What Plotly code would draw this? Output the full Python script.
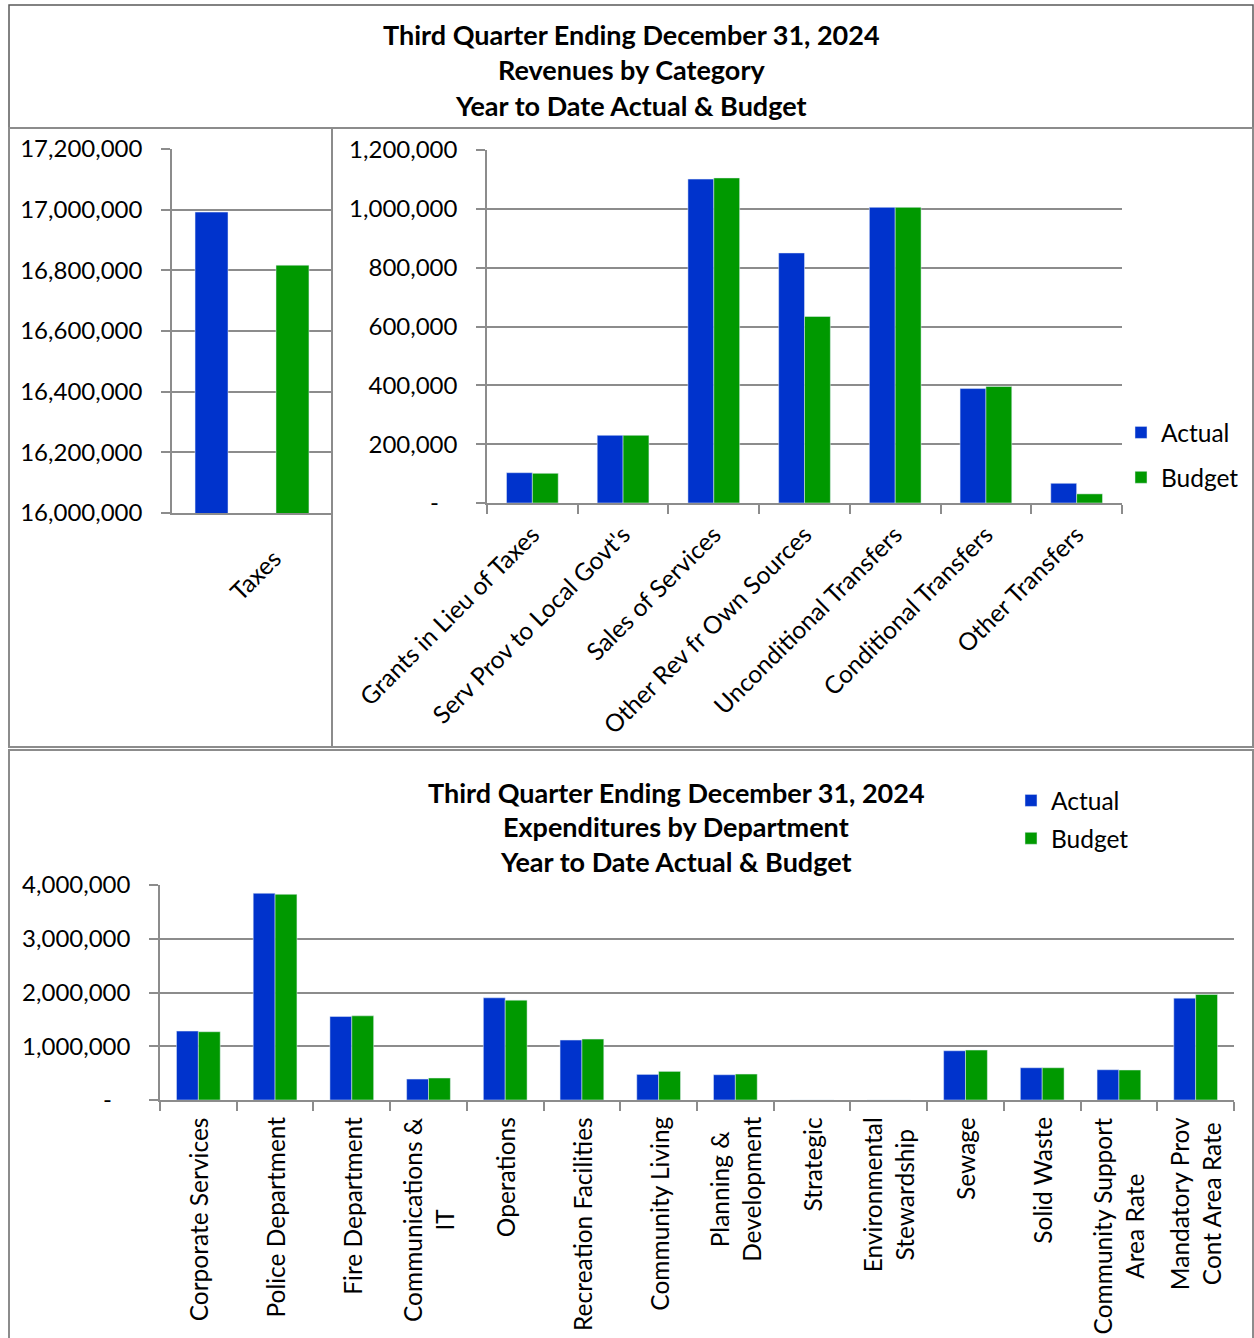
import plotly.graph_objects as go

W, H = 1254, 1338


def px(x):
    return x / W


def py(y):
    return 1 - y / H


# ---------------- data ----------------
tax_cats = ["Taxes"]
tax_actual = [16992000]
tax_budget = [16817000]
tax_ticks = [16000000, 16200000, 16400000, 16600000, 16800000, 17000000, 17200000]

rev_cats = ["Grants in Lieu of Taxes", "Serv Prov to Local Govt's", "Sales of Services",
            "Other Rev fr Own Sources", "Unconditional Transfers", "Conditional Transfers",
            "Other Transfers"]
rev_actual = [103000, 230000, 1101000, 850000, 1005000, 389000, 67000]
rev_budget = [101000, 230000, 1105000, 634000, 1005000, 396000, 31000]
rev_ticks = [0, 200000, 400000, 600000, 800000, 1000000, 1200000]
rev_ticktext = ["-\u00a0\u00a0\u00a0", "200,000", "400,000", "600,000", "800,000", "1,000,000", "1,200,000"]

exp_cats = ["Corporate Services", "Police Department", "Fire Department", "Communications &<br>IT",
            "Operations", "Recreation Facilities", "Community Living", "Planning &<br>Development",
            "Strategic", "Environmental<br>Stewardship", "Sewage", "Solid Waste",
            "Community Support<br>Area Rate", "Mandatory Prov<br>Cont Area Rate"]
exp_actual = [1282000, 3846000, 1553000, 390000, 1901000, 1115000, 476000, 470000, 0, 0,
              916000, 600000, 563000, 1895000]
exp_budget = [1270000, 3827000, 1566000, 409000, 1858000, 1133000, 532000, 483000, 0, 0,
              929000, 600000, 558000, 1963000]
exp_ticks = [0, 1000000, 2000000, 3000000, 4000000]
exp_ticktext = ["-\u00a0\u00a0\u00a0", "1,000,000", "2,000,000", "3,000,000", "4,000,000"]

title_lines = ["Third Quarter Ending December 31, 2024", "Revenues by Category", "Year to Date Actual & Budget"]
title2_lines = ["Third Quarter Ending December 31, 2024", "Expenditures by Department", "Year to Date Actual & Budget"]

BLUE = "#0033CC"
GREEN = "#009900"
GRID = "#8C8C8C"
FONT = "Lato"
FS = 24.5
FSY = 24
FST = 27

fig = go.Figure()

# Taxes panel
fig.add_trace(go.Bar(x=tax_cats, y=tax_actual, name="Actual", marker_color=BLUE,
                     xaxis="x", yaxis="y", showlegend=False, offset=-0.356, width=0.206))
fig.add_trace(go.Bar(x=tax_cats, y=tax_budget, name="Budget", marker_color=GREEN,
                     xaxis="x", yaxis="y", showlegend=False, offset=0.15, width=0.206))

# Revenues panel
fig.add_trace(go.Bar(x=rev_cats, y=rev_actual, name="Actual", marker_color=BLUE,
                     xaxis="x2", yaxis="y2", legend="legend", legendgroup="a"))
fig.add_trace(go.Bar(x=rev_cats, y=rev_budget, name="Budget", marker_color=GREEN,
                     xaxis="x2", yaxis="y2", legend="legend", legendgroup="b"))

# Expenditures panel
fig.add_trace(go.Bar(x=exp_cats, y=exp_actual, name="Actual", marker_color=BLUE,
                     xaxis="x3", yaxis="y3", legend="legend2", legendgroup="a"))
fig.add_trace(go.Bar(x=exp_cats, y=exp_budget, name="Budget", marker_color=GREEN,
                     xaxis="x3", yaxis="y3", legend="legend2", legendgroup="b"))

xcommon = dict(type="category", showgrid=False, showline=True, linecolor=GRID, linewidth=1.5,
               tickfont=dict(family=FONT, size=FS, color="black"), ticks="outside",
               tickson="boundaries", ticklen=9, tickcolor=GRID, tickwidth=1.5, fixedrange=True,
               automargin=False)
ycommon = dict(showgrid=True, gridcolor=GRID, gridwidth=1.5, showline=True, linecolor=GRID,
               linewidth=1.5, ticks="outside", ticklen=9, tickcolor=GRID, tickwidth=1.5,
               tickfont=dict(family=FONT, size=FSY, color="black"), zeroline=False,
               ticklabelstandoff=14, fixedrange=True, automargin=False)

fig.update_layout(
    width=W, height=H, margin=dict(l=0, r=0, t=0, b=0, autoexpand=False),
    paper_bgcolor="white", plot_bgcolor="white",
    barmode="group", bargap=0.43, bargroupgap=0,
    font=dict(family=FONT, size=FS, color="black"),
    xaxis=dict(xcommon, domain=[px(172), px(332)], anchor="y", tickangle=-45, ticks="",
               ticklabelshift=22, ticklabelstandoff=20),
    yaxis=dict(ycommon, domain=[py(513), py(149)], anchor="x", range=[16000000, 17200000],
               tickvals=tax_ticks, tickformat=","),
    xaxis2=dict(xcommon, domain=[px(487), px(1122)], anchor="y2", tickangle=-45,
                ticklabelstandoff=6),
    yaxis2=dict(ycommon, domain=[py(503), py(150)], anchor="x2", range=[0, 1200000],
                tickvals=rev_ticks, ticktext=rev_ticktext),
    xaxis3=dict(xcommon, domain=[px(160), px(1234)], anchor="y3", showticklabels=False),
    yaxis3=dict(ycommon, domain=[py(1100), py(885)], anchor="x3", range=[0, 4000000],
                tickvals=exp_ticks, ticktext=exp_ticktext),
    legend=dict(x=px(1121), y=py(410), xanchor="left", yanchor="top", tracegroupgap=10,
                font=dict(family=FONT, size=FS, color="black"), bgcolor="rgba(0,0,0,0)"),
    legend2=dict(x=px(1011), y=py(778), xanchor="left", yanchor="top", tracegroupgap=3,
                 font=dict(family=FONT, size=FS, color="black"), bgcolor="rgba(0,0,0,0)"),
)

# Category labels of the expenditure axis (centred multi-line, rotated like the original)
for cat in exp_cats:
    fig.add_annotation(text=cat, x=cat, xref="x3", y=py(1116), yref="paper",
                       xanchor="center", yanchor="top", textangle=-90, align="center",
                       showarrow=False, borderpad=0,
                       font=dict(family=FONT, size=FS, color="black"))

# Titles
for t, yy in zip(title_lines, [34, 70, 105]):
    fig.add_annotation(text="<b>%s</b>" % t, x=px(631), y=py(yy), xref="paper", yref="paper",
                       xanchor="center", yanchor="middle", showarrow=False,
                       font=dict(family=FONT, size=FST, color="black"))
for t, yy in zip(title2_lines, [792, 826, 861]):
    fig.add_annotation(text="<b>%s</b>" % t, x=px(676), y=py(yy), xref="paper", yref="paper",
                       xanchor="center", yanchor="middle", showarrow=False,
                       font=dict(family=FONT, size=FST, color="black"))

# Panel borders
DARK = "#595959"
borders = [
    (9, 5, 1253, 128, DARK, 1.5),
    (9, 128, 332, 747, GRID, 2),
    (332, 128, 1253, 747, GRID, 2),
    (9, 750, 1253, 1345, GRID, 2),
]
for x0, y0, x1, y1, c, w in borders:
    fig.add_shape(type="rect", xref="paper", yref="paper", x0=px(x0), x1=px(x1),
                  y0=py(y0), y1=py(y1), line=dict(color=c, width=w), fillcolor="rgba(0,0,0,0)",
                  layer="above")

fig.write_html("out.html", config={"displayModeBar": False},
               post_script="document.body.style.margin='0';")
